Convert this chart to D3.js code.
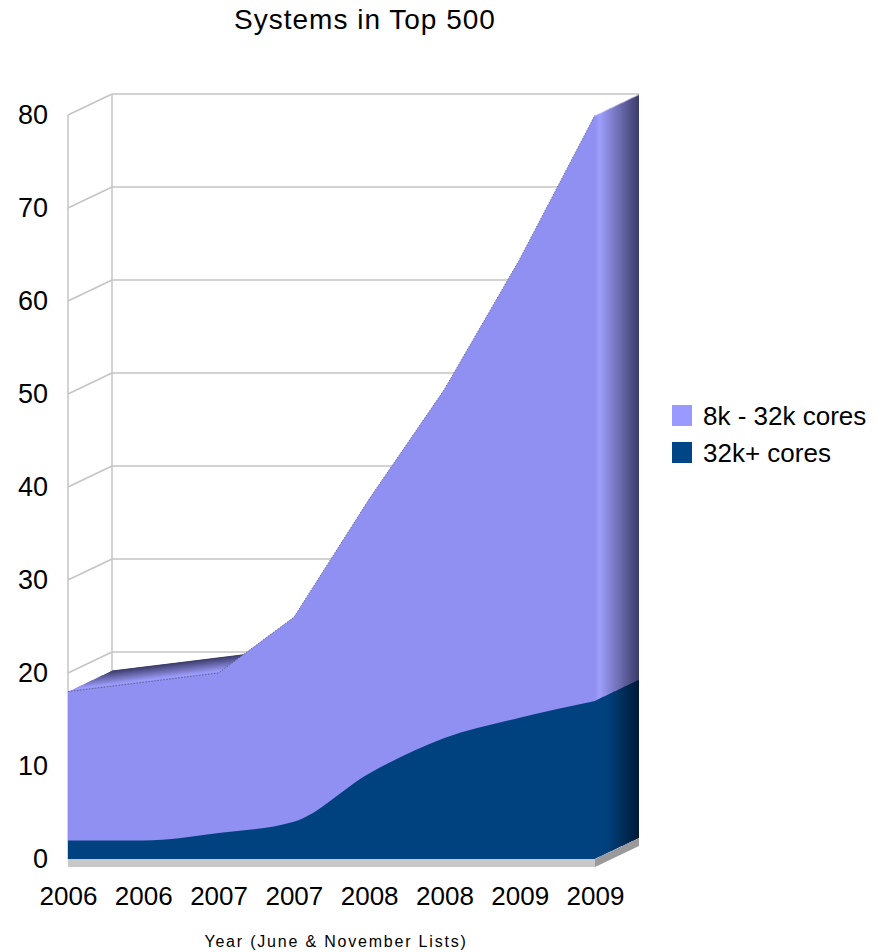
<!DOCTYPE html>
<meta charset="utf-8">
<style>

body {
  margin: 0;
  background: #fff;
}

text {
  font-family: "Liberation Sans", Arial, sans-serif;
  fill: #000;
}

.grid line {
  stroke: #c4c4c4;
  stroke-width: 1.5px;
}

.axis path {
  display: none;
}

</style>
<body>
<script src="https://cdn.jsdelivr.net/npm/d3@7"></script>
<script>

var width = 883,
    height = 952;

// data
var years = ["2006", "2006", "2007", "2007", "2008", "2008", "2009", "2009"],
    big = [2, 2, 2.8, 4, 9.2, 13, 15.2, 17],          // 32k+ cores
    mid = [16, 17, 17.2, 22, 29.5, 37.5, 49.3, 63],   // 8k - 32k cores
    yTicks = [0, 10, 20, 30, 40, 50, 60, 70, 80],
    legendNames = ["8k - 32k cores", "32k+ cores"];

// depth of the fake 3d box
var dx = 44,
    dy = -21,
    steps = 44;

var rows = years.map(function(d, i) {
  return {i: i, big: big[i], mid: mid[i]};
});

// drawn back to front: the upper series first (from the floor up), the lower one over it
var stacked = d3.stack().keys(["big", "mid"])(rows).reverse();

var x = d3.scalePoint()
    .domain(d3.range(years.length))
    .range([68, 595]);

var y = d3.scaleLinear()
    .domain([0, 80])
    .range([859, 115]);

// front colour -> back colour for the extruded sides
var sideColor = {
  big: d3.scaleLinear().domain([0, 0.3, 1]).range(["#00427f", "#00407c", "#001a35"]),
  mid: d3.scaleLinear().domain([0, 0.12, 1]).range(["#9090f2", "#9e9efc", "#3c3c6a"])
};

var frontColor = {big: "#00427f", mid: "#9090f2"};

// the total line is drawn with straight joins, the 32k+ line is smooth
var curves = {big: d3.curveMonotoneX, mid: d3.curveLinear};

function area(s) {
  return d3.area()
      .x(function(d) { return x(d.data.i); })
      .y0(y(0))
      .y1(function(d) { return y(d[1]); })
      .curve(curves[s.key])(s);
}

var topLine = d3.line()
    .x(function(d) { return x(d.data.i); })
    .y(function(d) { return y(d[1]); });

var svg = d3.select("body").append("svg")
    .attr("width", width)
    .attr("height", height);

svg.append("text")
    .attr("x", 365)
    .attr("y", 29)
    .attr("text-anchor", "middle")
    .style("font-size", "28px")
    .style("letter-spacing", "1px")
    .text("Systems in Top 500");

// walls
var grid = svg.append("g").attr("class", "grid");

grid.selectAll(".back")
    .data(yTicks)
  .enter().append("line")
    .attr("x1", 68 + dx)
    .attr("x2", 595 + dx)
    .attr("y1", function(d) { return y(d) + dy; })
    .attr("y2", function(d) { return y(d) + dy; });

grid.selectAll(".side")
    .data(yTicks)
  .enter().append("line")
    .attr("x1", 68)
    .attr("x2", 68 + dx)
    .attr("y1", function(d) { return y(d); })
    .attr("y2", function(d) { return y(d) + dy; });

grid.selectAll(".upright")
    .data([0, 1])
  .enter().append("line")
    .attr("x1", function(d) { return 68 + d * dx; })
    .attr("x2", function(d) { return 68 + d * dx; })
    .attr("y1", function(d) { return y(0) + d * dy; })
    .attr("y2", function(d) { return y(80) + d * dy; });

// floor slab
svg.append("rect")
    .attr("x", 68)
    .attr("y", y(0))
    .attr("width", 595 - 68)
    .attr("height", 8)
    .attr("fill", "#c8c8c8");

svg.append("path")
    .attr("d", "M595," + y(0) + "L" + (595 + dx) + "," + (y(0) + dy) +
      "V" + (y(0) + dy + 8) + "L595," + (y(0) + 8) + "Z")
    .attr("fill", "#9a9a9a");

// extrude the areas: paint copies from the back to the front
var depth = svg.append("g");

d3.range(steps, 0, -1).forEach(function(k) {
  var t = k / steps;
  var g = depth.append("g")
      .attr("transform", "translate(" + (t * dx) + "," + (t * dy) + ")");
  stacked.forEach(function(s) {
    g.append("path")
        .attr("d", area(s))
        .attr("fill", sideColor[s.key](t));
  });
});

// front faces
svg.append("g").selectAll("path")
    .data(stacked)
  .enter().append("path")
    .attr("d", area)
    .attr("fill", function(d) { return frontColor[d.key]; });

svg.append("path")
    .attr("d", topLine(stacked[0]))
    .attr("fill", "none")
    .attr("stroke", "#4c4c6e")
    .attr("stroke-width", 1)
    .attr("stroke-dasharray", "1.5,1.5")
    .attr("opacity", 0.7);

// axes
svg.append("g")
    .attr("class", "axis")
    .attr("transform", "translate(48,0)")
    .call(d3.axisLeft(y).tickValues(yTicks).tickSize(0).tickPadding(0))
    .call(function(g) {
      g.selectAll("text").style("font-size", "27px").attr("fill", "#000");
      g.selectAll(".tick line").remove();
    });

svg.append("g")
    .attr("class", "axis")
    .attr("transform", "translate(0," + y(0) + ")")
    .call(d3.axisBottom(x).tickSize(0).tickPadding(27.5)
      .tickFormat(function(i) { return years[i]; }))
    .call(function(g) {
      g.selectAll("text").style("font-size", "26px").attr("fill", "#000");
      g.selectAll(".tick line").remove();
    });

svg.append("text")
    .attr("x", 336)
    .attr("y", 947)
    .attr("text-anchor", "middle")
    .style("font-size", "16px")
    .style("letter-spacing", "1.8px")
    .text("Year (June & November Lists)");

// legend
var legend = svg.append("g")
    .attr("transform", "translate(672,405)");

var legendEntries = legend.selectAll(".legend-entry")
    .data(legendNames)
  .enter().append("g")
    .attr("class", "legend-entry")
    .attr("transform", function(d, i) { return "translate(0," + (i * 37) + ")"; });

legendEntries.append("rect")
    .attr("width", 20)
    .attr("height", 21)
    .attr("fill", function(d, i) { return i ? "#004586" : "#9999ff"; });

legendEntries.append("text")
    .attr("x", 31)
    .attr("y", 20)
    .style("font-size", "26px")
    .text(function(d) { return d; });

</script>
